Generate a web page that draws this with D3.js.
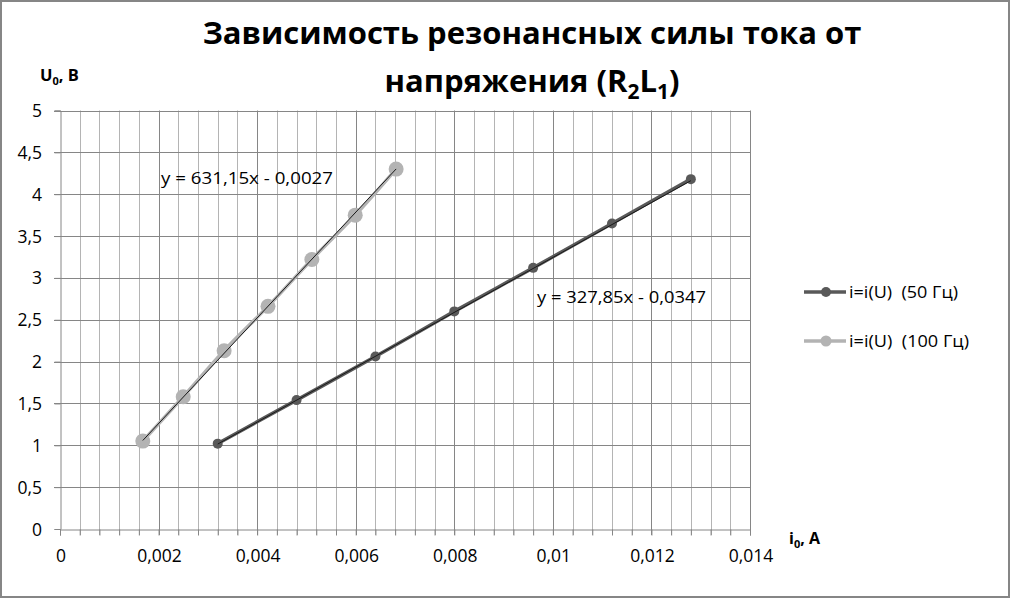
<!DOCTYPE html>
<html><head><meta charset="utf-8">
<script src="https://cdn.jsdelivr.net/npm/d3@7"></script>
<style>html,body{margin:0;padding:0;background:#fff;} text{font-family:"Open Sans","Noto Sans",sans-serif;}</style>
</head><body>
<svg id="c" width="1011" height="599"></svg>
<script>
// data
const i50 = [0.0032, 0.0048, 0.0064, 0.0080, 0.0096, 0.0112, 0.0128];
const u50 = [1.02, 1.54, 2.06, 2.60, 3.12, 3.65, 4.18];
const i100 = [0.00168, 0.00250, 0.00333, 0.00422, 0.00511, 0.00599, 0.00682];
const u100 = [1.05, 1.58, 2.13, 2.66, 3.22, 3.75, 4.30];
const trend50 = {slope: 327.85, intercept: -0.0347, label: "y = 327,85x - 0,0347"};
const trend100 = {slope: 631.15, intercept: -0.0027, label: "y = 631,15x - 0,0027"};
const seriesNames = ["i=i(U)  (50 Гц)", "i=i(U)  (100 Гц)"];
const xTicks = [0, 0.002, 0.004, 0.006, 0.008, 0.010, 0.012, 0.014];
const yTicks = [0, 0.5, 1, 1.5, 2, 2.5, 3, 3.5, 4, 4.5, 5];
const titleLines = ["Зависимость резонансных силы тока от", "напряжения (R₂L₁)"];

const svg = d3.select("#c");
const W = 1011, H = 599;
svg.append("rect").attr("x",1).attr("y",1).attr("width",W-3).attr("height",H-3)
  .attr("fill","#fff").attr("stroke","#868686").attr("stroke-width",2);

const x = d3.scaleLinear().domain([0, 0.014]).range([60, 750]);
const y = d3.scaleLinear().domain([0, 5]).range([529, 110.5]);
const fmt = v => (v === 0 ? "0" : d3.format("~g")(+v.toFixed(4))).replace(".", ",");

// minor vertical gridlines
const minorX = d3.range(0, 36).map(k => k * 0.0004).filter(v => v <= 0.01401);
const g = svg.append("g");
g.selectAll("line.minx").data(minorX.filter((v,k)=> k % 5 !== 0)).join("line")
  .attr("x1", d=>Math.round(x(d))+0.5).attr("x2", d=>Math.round(x(d))+0.5)
  .attr("y1", y(5)).attr("y2", y(0)+6).attr("stroke","#b4b4b4").attr("stroke-width",1);
g.selectAll("line.majx").data(xTicks.slice(1)).join("line")
  .attr("x1", d=>Math.round(x(d))+0.5).attr("x2", d=>Math.round(x(d))+0.5)
  .attr("y1", y(5)).attr("y2", y(0)+6).attr("stroke","#868686").attr("stroke-width",1);
g.selectAll("line.majy").data(yTicks.slice(1)).join("line")
  .attr("x1", x(0)-6).attr("x2", x(0.014))
  .attr("y1", d=>Math.round(y(d))+0.5).attr("y2", d=>Math.round(y(d))+0.5)
  .attr("stroke","#868686").attr("stroke-width",1);

// axes
const xAxis = d3.axisBottom(x).tickValues(minorX).tickSize(6).tickFormat("");
const ax = svg.append("g").attr("transform",`translate(0,${Math.round(y(0))+0.5})`).call(xAxis);
ax.select(".domain").attr("stroke","#868686");
ax.selectAll(".tick line").attr("stroke","#868686");
svg.append("g").selectAll("text").data(xTicks).join("text")
  .attr("x", d=>x(d)+1).attr("y", 562).attr("text-anchor","middle")
  .attr("font-size",17.5).attr("fill","#000").text(fmt);

const yAxis = d3.axisLeft(y).tickValues(yTicks).tickSize(6).tickFormat("");
const ay = svg.append("g").attr("transform",`translate(${Math.round(x(0))+0.5},0)`).call(yAxis);
ay.select(".domain").attr("stroke","#868686");
ay.selectAll(".tick line").attr("stroke","#868686");
svg.append("g").selectAll("text").data(yTicks).join("text")
  .attr("x", 42).attr("y", d=>y(d)+6.5).attr("text-anchor","end")
  .attr("font-size",17.5).attr("fill","#000").text(fmt);

// series
const line = d3.line().x(d=>x(d[0])).y(d=>y(d[1])).curve(d3.curveMonotoneX);
const d50 = i50.map((v,k)=>[v,u50[k]]);
const d100 = i100.map((v,k)=>[v,u100[k]]);
const c50 = "#595959", c100 = "#b3b3b3";

svg.append("path").attr("d", line(d100)).attr("fill","none").attr("stroke",c100).attr("stroke-width",3.5);
svg.append("g").selectAll("circle").data(d100).join("circle")
  .attr("cx",d=>x(d[0])).attr("cy",d=>y(d[1])).attr("r",7.5).attr("fill",c100);
svg.append("path").attr("d", line(d50)).attr("fill","none").attr("stroke",c50).attr("stroke-width",3.5);
svg.append("g").selectAll("circle").data(d50).join("circle")
  .attr("cx",d=>x(d[0])).attr("cy",d=>y(d[1])).attr("r",5).attr("fill",c50);

// trendlines
function trend(t, xs){
  const x0 = d3.min(xs), x1 = d3.max(xs);
  svg.append("line").attr("x1",x(x0)).attr("y1",y(t.slope*x0+t.intercept))
    .attr("x2",x(x1)).attr("y2",y(t.slope*x1+t.intercept))
    .attr("stroke","#1a1a1a").attr("stroke-width",1);
}
trend(trend100, i100);
trend(trend50, i50);

svg.append("text").attr("x",161).attr("y",184).attr("font-size",17).attr("fill","#000")
  .attr("textLength",172).attr("lengthAdjust","spacingAndGlyphs").text(trend100.label);
svg.append("text").attr("x",537).attr("y",303).attr("font-size",17).attr("fill","#000")
  .attr("textLength",169).attr("lengthAdjust","spacingAndGlyphs").text(trend50.label);

// title
svg.append("text").attr("x",532).attr("y",44).attr("text-anchor","middle")
  .attr("font-size",31).attr("font-weight","bold").attr("fill","#000").text(titleLines[0]);
const t2 = svg.append("text").attr("x",532).attr("y",92).attr("text-anchor","middle")
  .attr("font-size",31).attr("font-weight","bold").attr("fill","#000");
t2.append("tspan").text("напряжения (R");
t2.append("tspan").attr("font-size",21).attr("dy",7).text("2");
t2.append("tspan").attr("dy",-7).text("L");
t2.append("tspan").attr("font-size",21).attr("dy",7).text("1");
t2.append("tspan").attr("dy",-7).text(")");

// axis titles
const yt = svg.append("text").attr("x",40).attr("y",81).attr("font-size",16.5).attr("font-weight","bold").attr("fill","#000");
yt.append("tspan").text("U");
yt.append("tspan").attr("font-size",11).attr("dy",4).text("0");
yt.append("tspan").attr("dy",-4).text(", В");
const xt = svg.append("text").attr("x",789).attr("y",544).attr("font-size",16).attr("font-weight","bold").attr("fill","#000");
xt.append("tspan").text("i");
xt.append("tspan").attr("font-size",11).attr("dy",4).text("0");
xt.append("tspan").attr("dy",-4).text(", А");

// legend
const leg = [{n:seriesNames[0], c:c50, r:5, y:292, w:109}, {n:seriesNames[1], c:c100, r:5.5, y:341, w:120}];
const lg = svg.append("g").selectAll("g").data(leg).join("g");
lg.append("line").attr("x1",804).attr("x2",846).attr("y1",d=>d.y).attr("y2",d=>d.y)
  .attr("stroke",d=>d.c).attr("stroke-width",3.5);
lg.append("circle").attr("cx",826).attr("cy",d=>d.y).attr("r",d=>d.r).attr("fill",d=>d.c);
lg.append("text").attr("x",849).attr("y",d=>d.y+6).attr("font-size",17).attr("fill","#000")
  .attr("xml:space","preserve").attr("textLength",d=>d.w).attr("lengthAdjust","spacingAndGlyphs").text(d=>d.n);
</script>
</body></html>
